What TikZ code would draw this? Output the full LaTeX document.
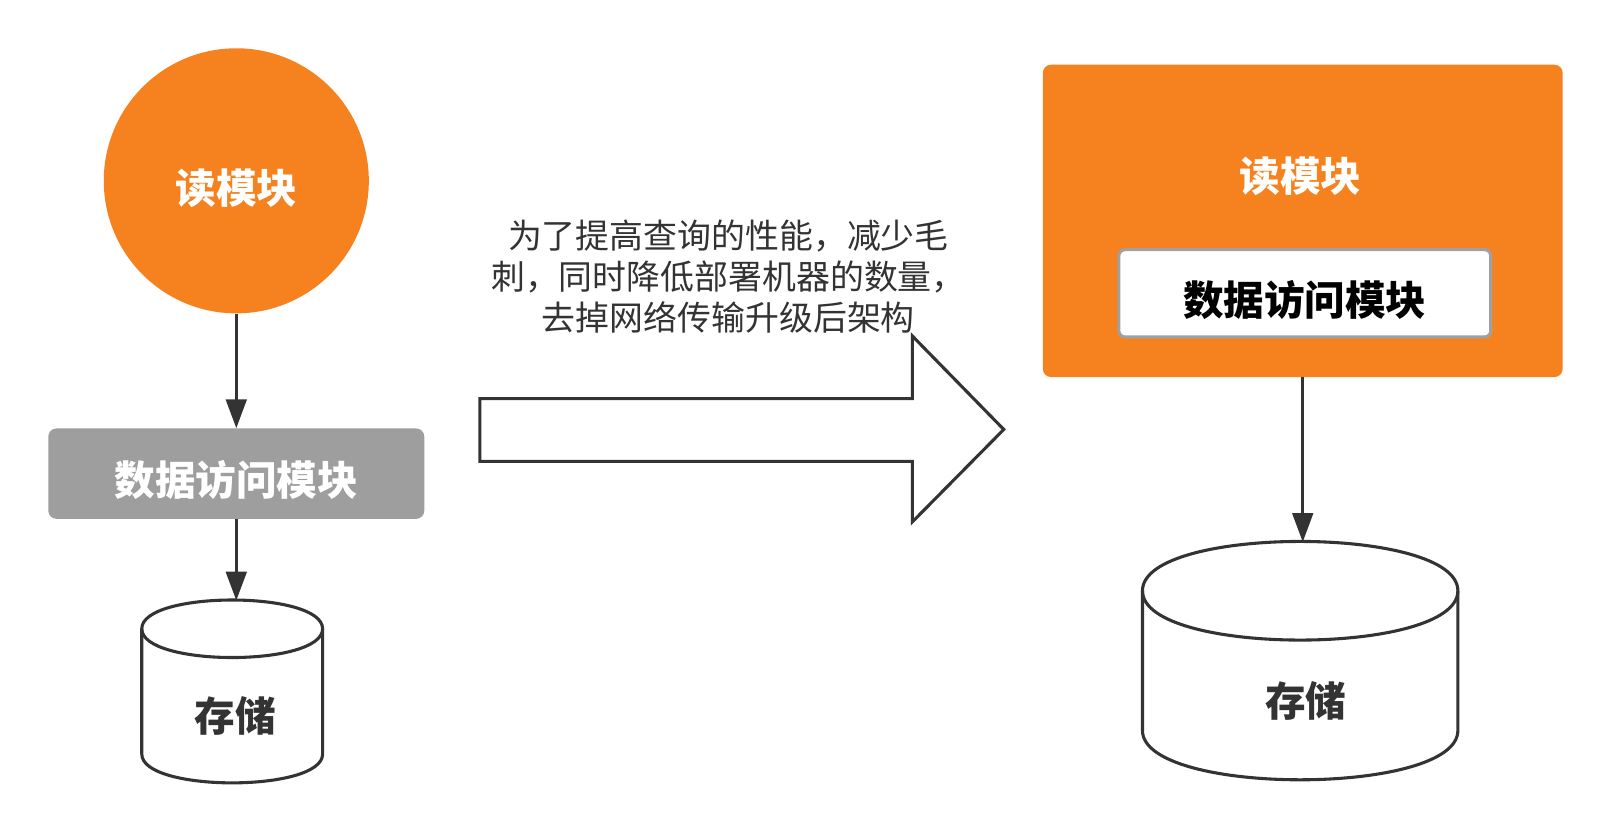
\documentclass[tikz,border=0pt]{standalone}
\usepackage{fontspec}
\setmainfont{Noto Sans CJK SC}
\usetikzlibrary{arrows.meta}
\definecolor{orangeC}{HTML}{F5821F}
\definecolor{grayC}{HTML}{9E9E9E}
\definecolor{darkC}{HTML}{333333}
\definecolor{borderC}{HTML}{A0A0A0}
\tikzset{
  conn/.style={draw=darkC, line width=3pt, -{Triangle[width=20pt,length=28pt]}},
  boldlbl/.style={font=\fontsize{39.5}{42}\selectfont\bfseries, inner sep=0pt},
  cylline/.style={draw=darkC, line width=3pt, fill=white, line join=round},
}
\begin{document}
\begin{tikzpicture}[x=1pt,y=-1pt]
\useasboundingbox (0,0) rectangle (1570,808);
\fill[white] (0,0) rectangle (1570,808);

% ---------- left: before ----------
\node[circle, fill=orangeC, minimum size=258pt, inner sep=0pt] (readL) at (230,176) {};
\node[boldlbl, text=white] (readLt) at (230,183) {读模块};

\node[rectangle, rounded corners=8pt, fill=grayC, minimum width=366pt, minimum height=88pt, inner sep=0pt] (dataL) at (230,461) {};
\node[boldlbl, text=white] (dataLt) at (230,467) {数据访问模块};

% left cylinder
\path[cylline] (138,612) .. controls (138,574.67) and (314,574.67) .. (314,612)
  -- (314,734) .. controls (314,771.33) and (138,771.33) .. (138,734) -- cycle;
\draw[darkC, line width=3pt] (138,612) .. controls (138,649.33) and (314,649.33) .. (314,612);
\coordinate (cylLtop) at (230,584.5);
\node[boldlbl, text=darkC] (storeL) at (229,697) {存储};

\draw[conn] (readL.south) -- (dataL.north);
\draw[conn] (dataL.south) -- (cylLtop);

% ---------- middle: big arrow ----------
\draw[draw=darkC, line width=3pt, fill=white, line join=miter]
  (467,388) -- (888,388) -- (888,327) -- (977,418) -- (888,508) -- (888,449) -- (467,449) -- cycle;
\node[font=\fontsize{33}{40}\selectfont, text=darkC, align=center, inner sep=0pt] (desc) at (709,269)
  {为了提高查询的性能，减少毛\\刺，同时降低部署机器的数量，\\去掉网络传输升级后架构};

% ---------- right: after ----------
\node[rectangle, rounded corners=8pt, fill=orangeC, minimum width=506pt, minimum height=304pt, inner sep=0pt] (readR) at (1268,215) {};
\node[boldlbl, text=white] (readRt) at (1266,172) {读模块};

\node[rectangle, rounded corners=6pt, fill=white, draw=borderC, line width=3pt, minimum width=362pt, minimum height=85pt, inner sep=0pt] (dataR) at (1270,285.5) {};
\node[boldlbl, text=black] (dataRt) at (1270,292) {数据访问模块};

% right cylinder
\path[cylline] (1112,575) .. controls (1112,511) and (1419,511) .. (1419,575)
  -- (1419,711) .. controls (1419,775) and (1112,775) .. (1112,711) -- cycle;
\draw[darkC, line width=3pt] (1112,575) .. controls (1112,639) and (1419,639) .. (1419,575);
\coordinate (cylRtop) at (1268,527.5);
\node[boldlbl, text=darkC] (storeR) at (1271,682) {存储};

\draw[conn] (readR.south -| cylRtop) -- (cylRtop);
\end{tikzpicture}
\end{document}
